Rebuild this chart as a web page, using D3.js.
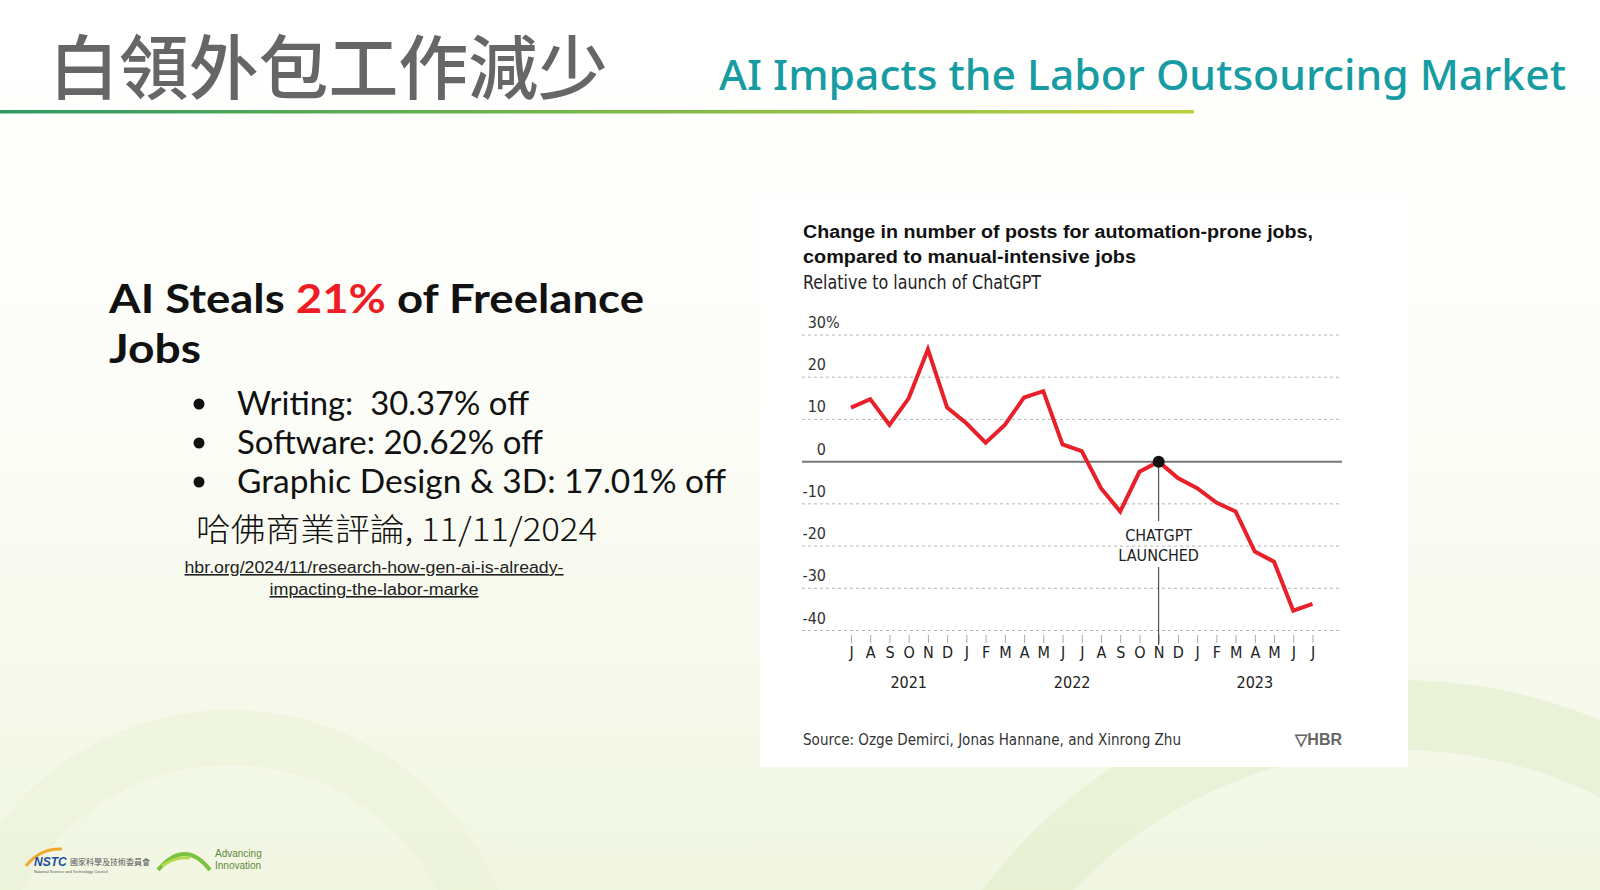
<!DOCTYPE html>
<html>
  <head>
    <meta charset="UTF-8" />
    <script src="https://cdnjs.cloudflare.com/ajax/libs/d3/7.8.5/d3.min.js"></script>
    <style>
      body { margin: 0; background: #fff; }
      svg { display: block; }
      .cond { font-family: "Liberation Sans Narrow", "DejaVu Sans Condensed", "Roboto Condensed", sans-serif; }
      .tick line { stroke: #aaa; }
      path.domain { display: none; }
    </style>
  </head>
  <body>
    <svg id="slide" width="1600" height="890"></svg>
    <script>
      // chart data
      const months = ["J","A","S","O","N","D","J","F","M","A","M","J","J","A","S","O","N","D","J","F","M","A","M","J","J"];
      const values = [12.8, 14.8, 8.7, 15.0, 26.6, 12.8, 9.1, 4.5, 8.7, 15.2, 16.7, 4.1, 2.5,
                      -6.3, -11.8, -2.4, 0, -3.9, -6.3, -9.7, -11.8, -21.3, -23.7, -35.3, -33.7];
      const yTicks = [30, 20, 10, 0, -10, -20, -30, -40];
      const years = ["2021", "2022", "2023"];
      const yearPos = [3, 11.5, 21];
      const launchIndex = 16;

      const bullets = ["Writing:  30.37% off", "Software: 20.62% off", "Graphic Design & 3D: 17.01% off"];

      const svg = d3.select("#slide");
      const defs = svg.append("defs");

      // background
      let bg = defs.append("linearGradient").attr("id", "bg").attr("x1", 0).attr("y1", 0).attr("x2", 0).attr("y2", 1);
      bg.append("stop").attr("offset", "0%").attr("stop-color", "#ffffff");
      bg.append("stop").attr("offset", "45%").attr("stop-color", "#fcfdf8");
      bg.append("stop").attr("offset", "100%").attr("stop-color", "#f1f6e2");
      svg.append("rect").attr("width", 1600).attr("height", 890).attr("fill", "url(#bg)");

      let rings = [
        { cx: 230, cy: 1000, r0: 235, r1: 290, c: "#e9f0d2", o: 0.45 },
        { cx: 1400, cy: 1200, r0: 450, r1: 520, c: "#e2edcc", o: 0.6 }
      ];
      let arc = d3.arc();
      svg.selectAll("path.ring").data(rings).enter().append("path")
        .attr("class", "ring")
        .attr("transform", d => `translate(${d.cx},${d.cy})`)
        .attr("d", d => arc({ innerRadius: d.r0, outerRadius: d.r1, startAngle: 0, endAngle: 2 * Math.PI }))
        .attr("fill", d => d.c)
        .attr("opacity", d => d.o);

      // title bar
      svg.append("text").attr("x", 49).attr("y", 63).attr("dominant-baseline", "central")
        .style("font-family", "'Noto Sans CJK TC', sans-serif").style("font-size", "70px").style("font-weight", 500)
        .attr("fill", "#666")
        .attr("textLength", 559).attr("lengthAdjust", "spacingAndGlyphs")
        .text("白領外包工作減少");

      svg.append("text").attr("x", 719).attr("y", 90)
        .style("font-family", "'Noto Sans', 'Open Sans', sans-serif").style("font-size", "42px").style("font-weight", 500)
        .attr("fill", "#179ca3")
        .attr("textLength", 847).attr("lengthAdjust", "spacingAndGlyphs")
        .text("AI Impacts the Labor Outsourcing Market");

      let lg = defs.append("linearGradient").attr("id", "rule");
      lg.append("stop").attr("offset", "0%").attr("stop-color", "#2f9a63");
      lg.append("stop").attr("offset", "50%").attr("stop-color", "#79b84a");
      lg.append("stop").attr("offset", "100%").attr("stop-color", "#bcd03c");
      svg.append("rect").attr("x", 0).attr("y", 110).attr("width", 1194).attr("height", 3.5).attr("fill", "url(#rule)");

      // left text block
      let head = svg.append("text").attr("x", 109).attr("y", 313)
        .style("font-family", "Lato, sans-serif").style("font-size", "41px").style("font-weight", "bold")
        .attr("fill", "#111").attr("textLength", 535).attr("lengthAdjust", "spacingAndGlyphs");
      head.append("tspan").text("AI Steals ");
      head.append("tspan").attr("fill", "#ee1c25").text("21%");
      head.append("tspan").text(" of Freelance");
      svg.append("text").attr("x", 109).attr("y", 363)
        .style("font-family", "Lato, sans-serif").style("font-size", "41px").style("font-weight", "bold")
        .attr("fill", "#111").attr("textLength", 92).attr("lengthAdjust", "spacingAndGlyphs").text("Jobs");

      let bulletWidths = [292, 306, 489];
      let bulletY = [415, 454, 493];
      bullets.forEach((b, i) => {
        svg.append("circle").attr("cx", 199).attr("cy", bulletY[i] - 11).attr("r", 5.5).attr("fill", "#111");
        svg.append("text").attr("x", 237).attr("y", bulletY[i])
          .style("font-family", "Lato, sans-serif").style("font-size", "32px").attr("fill", "#111")
          .attr("textLength", bulletWidths[i]).attr("lengthAdjust", "spacingAndGlyphs")
          .style("white-space", "pre")
          .text(b);
      });

      svg.append("text").attr("x", 196).attr("y", 541)
        .style("font-family", "'Noto Sans CJK TC', sans-serif").style("font-size", "32px").style("font-weight", 300)
        .attr("fill", "#111")
        .attr("textLength", 401).attr("lengthAdjust", "spacingAndGlyphs")
        .text("哈佛商業評論, 11/11/2024");

      let link = ["hbr.org/2024/11/research-how-gen-ai-is-already-", "impacting-the-labor-marke"];
      let linkW = [379, 209];
      link.forEach((t, i) => {
        svg.append("text").attr("x", 374).attr("y", 573 + i * 22).attr("text-anchor", "middle")
          .style("font-family", "'Liberation Sans', Arial, sans-serif").style("font-size", "16px")
          .attr("textLength", linkW[i]).attr("lengthAdjust", "spacingAndGlyphs")
          .style("text-decoration", "underline").attr("fill", "#222").text(t);
      });

      // logos (rough)
      svg.append("path").attr("d", "M26,866 Q40,848 62,849").attr("stroke", "#f0a830").attr("stroke-width", 3).attr("fill", "none");
      svg.append("text").attr("x", 34).attr("y", 866).style("font-family", "'Liberation Sans', sans-serif")
        .style("font-size", "12px").style("font-weight", "bold").style("font-style", "italic").attr("fill", "#1d4fa0").text("NSTC");
      svg.append("text").attr("x", 70).attr("y", 865).style("font-family", "'Noto Sans CJK TC', sans-serif")
        .style("font-size", "8px").attr("fill", "#555").text("國家科學及技術委員會");
      svg.append("text").attr("x", 34).attr("y", 873).style("font-family", "'Liberation Sans', sans-serif")
        .style("font-size", "4px").attr("fill", "#555").text("National Science and Technology Council");
      svg.append("path").attr("d", "M158,870 Q185,838 210,870").attr("stroke", "#7cc242").attr("stroke-width", 4).attr("fill", "none");
      svg.append("path").attr("d", "M162,866 Q176,856 190,858").attr("stroke", "#b6d94c").attr("stroke-width", 3).attr("fill", "none");
      svg.append("text").attr("x", 215).attr("y", 857).style("font-family", "'Liberation Sans', sans-serif")
        .style("font-size", "10px").attr("fill", "#5a8a3a").text("Advancing");
      svg.append("text").attr("x", 215).attr("y", 869).style("font-family", "'Liberation Sans', sans-serif")
        .style("font-size", "10px").attr("fill", "#5a8a3a").text("Innovation");

      // chart panel
      svg.append("rect").attr("x", 760).attr("y", 195).attr("width", 648).attr("height", 572).attr("fill", "#fff");

      let x = d3.scaleLinear().domain([0, months.length - 1]).range([851, 1312.5]);
      let y = d3.scaleLinear().domain([-40, 30]).range([630.5, 335]);

      let chart = svg.append("g").attr("class", "cond");

      chart.append("text").attr("x", 803).attr("y", 238)
        .style("font-family", "'Liberation Sans', Arial, sans-serif").style("font-size", "18px").style("font-weight", "bold")
        .attr("fill", "#111").attr("textLength", 510).attr("lengthAdjust", "spacingAndGlyphs")
        .text("Change in number of posts for automation-prone jobs,");
      chart.append("text").attr("x", 803).attr("y", 263)
        .style("font-family", "'Liberation Sans', Arial, sans-serif").style("font-size", "18px").style("font-weight", "bold")
        .attr("fill", "#111").attr("textLength", 333).attr("lengthAdjust", "spacingAndGlyphs")
        .text("compared to manual-intensive jobs");
      chart.append("text").attr("x", 803).attr("y", 289)
        .style("font-size", "19px").attr("fill", "#222")
        .attr("textLength", 238).attr("lengthAdjust", "spacingAndGlyphs")
        .text("Relative to launch of ChatGPT");

      // gridlines
      chart.selectAll("line.grid").data(yTicks).enter().append("line")
        .attr("class", "grid")
        .attr("x1", 802).attr("x2", d => d === 0 ? 1342 : 1340)
        .attr("y1", d => y(d)).attr("y2", d => y(d))
        .attr("stroke", d => d === 0 ? "#777" : "#b5b5b5")
        .attr("stroke-width", d => d === 0 ? 2 : 1)
        .attr("stroke-dasharray", d => d === 0 ? null : "3,3");

      chart.selectAll("text.ylab").data(yTicks).enter().append("text")
        .attr("class", "ylab")
        .attr("x", 826).attr("y", d => y(d) - 7)
        .attr("text-anchor", "end")
        .style("font-size", "16px").attr("fill", "#333")
        .text(d => d);
      chart.append("text").attr("x", 826).attr("y", y(30) - 7)
        .style("font-size", "16px").attr("fill", "#333").text("%");

      // month axis
      let xAxis = d3.axisBottom(x)
        .tickValues(d3.range(months.length))
        .tickFormat(i => months[i])
        .tickSize(8)
        .tickPadding(4);
      let ax = chart.append("g").attr("transform", "translate(0,635)").call(xAxis);
      ax.selectAll(".tick line").attr("stroke", d => d === 6 || d === 18 ? "#333" : "#aaa");
      ax.selectAll(".tick text")
        .style("font-family", "'Liberation Sans Narrow', 'DejaVu Sans Condensed', sans-serif")
        .style("font-size", "16px").attr("fill", "#222");

      chart.selectAll("text.year").data(years).enter().append("text")
        .attr("class", "year")
        .attr("x", (d, i) => x(yearPos[i])).attr("y", 688)
        .attr("text-anchor", "middle")
        .style("font-size", "16px").attr("fill", "#222")
        .text(d => d);

      // ChatGPT launch marker
      let lx = x(launchIndex);
      chart.append("line").attr("x1", lx).attr("x2", lx).attr("y1", y(0)).attr("y2", 521).attr("stroke", "#333");
      chart.append("line").attr("x1", lx).attr("x2", lx).attr("y1", 567).attr("y2", 645).attr("stroke", "#333");
      ["CHATGPT", "LAUNCHED"].forEach((t, i) => {
        chart.append("text").attr("x", lx).attr("y", 541 + i * 20).attr("text-anchor", "middle")
          .style("font-size", "16px").attr("fill", "#222").text(t);
      });

      // line
      let line = d3.line().x((d, i) => x(i)).y(d => y(d));
      chart.append("path").datum(values)
        .attr("d", line)
        .attr("fill", "none")
        .attr("stroke", "#e8202a")
        .attr("stroke-width", 4)
        .attr("stroke-linejoin", "miter");

      chart.append("circle").attr("cx", lx).attr("cy", y(values[launchIndex])).attr("r", 6).attr("fill", "#111");

      // source + logo
      chart.append("text").attr("x", 803).attr("y", 745)
        .style("font-size", "15px").attr("fill", "#333")
        .attr("textLength", 378).attr("lengthAdjust", "spacingAndGlyphs")
        .text("Source: Ozge Demirci, Jonas Hannane, and Xinrong Zhu");
      chart.append("text").attr("x", 1342).attr("y", 745).attr("text-anchor", "end")
        .style("font-family", "'Liberation Sans', Arial, sans-serif")
        .style("font-size", "16px").style("font-weight", "bold").attr("fill", "#666")
        .text("▽HBR");
    </script>
  </body>
</html>
